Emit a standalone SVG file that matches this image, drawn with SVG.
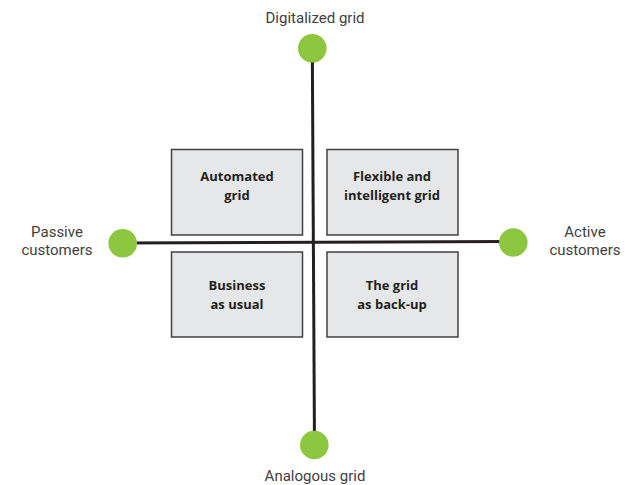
<svg xmlns="http://www.w3.org/2000/svg" width="632" height="485" viewBox="0 0 632 485">
  <style>
    .axis { stroke: #231f20; stroke-width: 3; fill: none; }
    .dot { fill: #8dc63f; }
    .box rect { fill: #e6e7e8; stroke: #414042; stroke-width: 1.5; }
    .box text { font-family: "Open Sans", "Liberation Sans", sans-serif; font-weight: 700; font-size: 13px; fill: #231f20; text-anchor: middle; }
    .pole text { font-family: Roboto, "Liberation Sans", sans-serif; font-size: 15px; fill: #414042; text-anchor: middle; }
  </style>
  <rect width="632" height="485" fill="#ffffff"/>
  <g id="connectors">
    <line class="axis" x1="312.3" y1="48" x2="314.5" y2="445"/>
    <line class="axis" x1="123" y1="243" x2="513" y2="241.5"/>
  </g>
  <g id="automated-grid" class="box">
    <rect x="171.5" y="149.5" width="131" height="85.5"/>
    <text x="237" y="181">Automated</text>
    <text x="237" y="199.5">grid</text>
  </g>
  <g id="flexible-grid" class="box">
    <rect x="327" y="149.5" width="131" height="85.5"/>
    <text x="392" y="181">Flexible and</text>
    <text x="392" y="199.5">intelligent grid</text>
  </g>
  <g id="business-as-usual" class="box">
    <rect x="171.5" y="252" width="131" height="85"/>
    <text x="237" y="290">Business</text>
    <text x="237" y="308.5">as usual</text>
  </g>
  <g id="grid-as-backup" class="box">
    <rect x="327" y="252" width="131" height="85"/>
    <text x="392" y="290">The grid</text>
    <text x="392" y="308.5">as back-up</text>
  </g>
  <g id="digitalized-grid" class="pole">
    <circle class="dot" cx="312.3" cy="48.3" r="14.3"/>
    <text x="315" y="23">Digitalized grid</text>
  </g>
  <g id="analogous-grid" class="pole">
    <circle class="dot" cx="314.3" cy="445" r="14.3"/>
    <text x="315" y="481">Analogous grid</text>
  </g>
  <g id="passive-customers" class="pole">
    <circle class="dot" cx="122.7" cy="243.3" r="14.3"/>
    <text x="57" y="236.5">Passive</text>
    <text x="57" y="255">customers</text>
  </g>
  <g id="active-customers" class="pole">
    <circle class="dot" cx="513.3" cy="242.5" r="14.3"/>
    <text x="585" y="236.5">Active</text>
    <text x="585" y="255">customers</text>
  </g>
</svg>
